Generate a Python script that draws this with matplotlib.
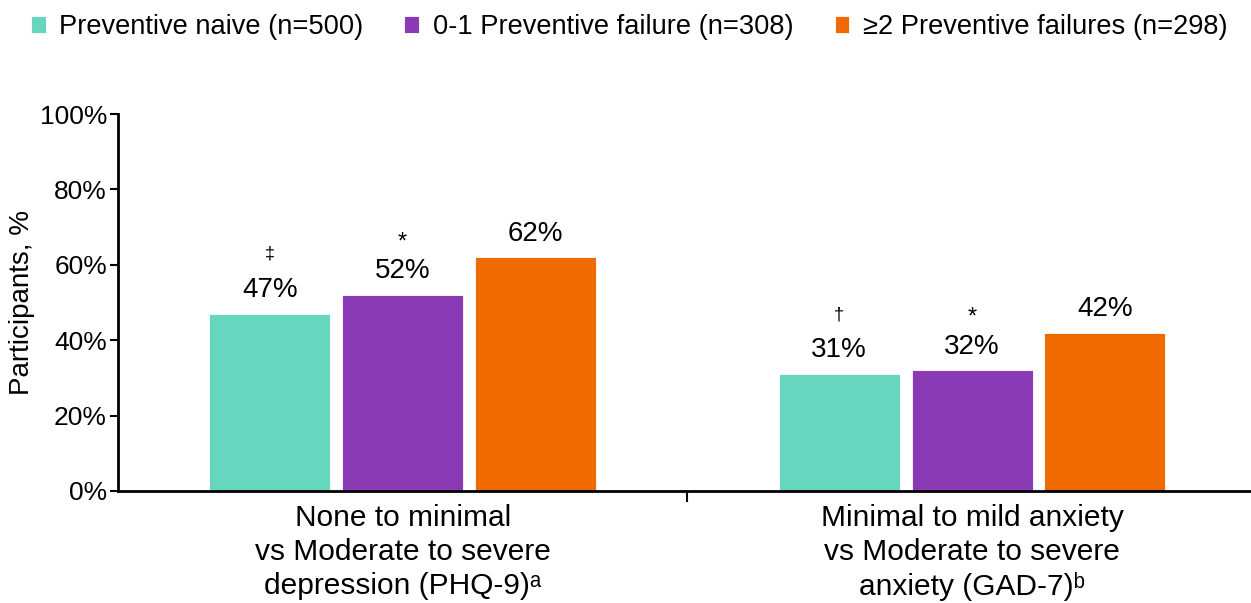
import matplotlib
matplotlib.use("Agg")
import matplotlib.pyplot as plt
import numpy as np

plt.rcParams['font.family'] = ['Liberation Sans', 'DejaVu Sans']

categories = ["None to minimal\nvs Moderate to severe\ndepression (PHQ-9)ᵃ",
              "Minimal to mild anxiety\nvs Moderate to severe\nanxiety (GAD-7)ᵇ"]
series_names = ["Preventive naive (n=500)", "0-1 Preventive failure (n=308)", "≥2 Preventive failures (n=298)"]
naive = [47, 31]
fail01 = [52, 32]
fail2 = [62, 42]
sig_naive = ["‡", "†"]
sig_fail01 = ["*", "*"]
sig_fail2 = ["", ""]
yticks = [0, 20, 40, 60, 80, 100]
colors = ["#66D6BE", "#8B3AB6", "#EF6A00"]

fig = plt.figure(figsize=(12.51, 6.03), dpi=100)
ax = fig.add_axes([118/1251, 1-491/603, 1-118/1251, (491-114)/603])

x = np.arange(len(categories))
width = 0.2125
step = 0.2335
all_vals = [naive, fail01, fail2]
all_sigs = [sig_naive, sig_fail01, sig_fail2]
for i, (vals, sigs, c, name) in enumerate(zip(all_vals, all_sigs, colors, series_names)):
    xs = x + (i - 1) * step
    ax.bar(xs, vals, width, color=c, label=name, edgecolor='white', linewidth=0.6)
    for xi, v, s in zip(xs, vals, sigs):
        ax.text(xi, v + 6.3, f"{v}%", ha='center', va='center', fontsize=20)
        if s:
            if s == "*":
                ax.text(xi, v + 14.0, s, ha='center', va='center', fontsize=17)
            else:
                ax.text(xi, v + 15.8, s, ha='center', va='center', fontsize=13)

ax.set_xlim(-0.5, 1.49)
ax.set_ylim(0, 100)
ax.set_yticks(yticks)
ax.set_yticklabels([f"{t}%" for t in yticks], fontsize=19)
ax.set_xticks(x)
ax.set_xticklabels(categories, fontsize=21.5, linespacing=1.28)
ax.tick_params(axis='x', which='major', length=0, pad=9)
ax.set_xticks([0.5], minor=True)
ax.tick_params(axis='x', which='minor', length=8, width=1.5, direction='out')
ax.tick_params(axis='y', length=6, width=1.5, direction='out', pad=2)
for s in ['top', 'right']:
    ax.spines[s].set_visible(False)
ax.spines['left'].set_linewidth(2)
ax.spines['bottom'].set_linewidth(2)
ax.set_ylabel("Participants, %", fontsize=20, labelpad=3)

fig.legend(loc='center', bbox_to_anchor=(0.503, 1-27/603), ncol=3, frameon=False,
           fontsize=19.6, handlelength=0.55, handleheight=0.55, handletextpad=0.5,
           columnspacing=1.5, borderaxespad=0)

fig.savefig("out.png", dpi=100)
